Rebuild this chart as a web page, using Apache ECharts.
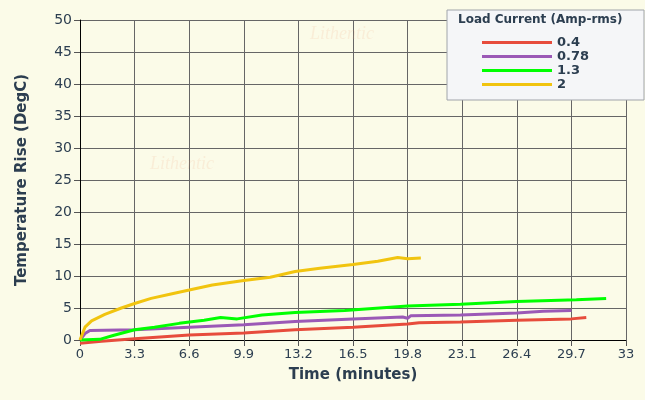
<!DOCTYPE html><html><head><meta charset="utf-8"><script src="https://cdn.jsdelivr.net/npm/echarts@6/dist/echarts.min.js"></script>
<style>body{margin:0;background:#fbfbe8}#c{width:645px;height:400px}</style></head><body><div id="c"></div><script>
const seriesNames=['0.4','0.78','1.3','2'];
const colors=['#e74c3c','#9b59b6','#00ff00','#f1c40f'];
const xTicks=[0,3.3,6.6,9.9,13.2,16.5,19.8,23.1,26.4,29.7,33];
const red=[[0,-0.5],[1.3,-0.2],[3.3,0.2],[6.6,0.8],[9.9,1.1],[13,1.6],[16.5,2],[19.8,2.5],[20.5,2.7],[23,2.8],[26.4,3.1],[29.7,3.3],[30.6,3.5]];
const purple=[[0,0],[0.3,1],[0.6,1.5],[3.3,1.6],[6.6,2.0],[9.9,2.4],[13,2.9],[16.5,3.3],[19.5,3.6],[19.8,3.4],[20,3.8],[23,3.9],[26.4,4.2],[28,4.5],[29.7,4.6]];
const green=[[0,0],[1.2,0.1],[2,0.7],[3.3,1.6],[4.5,2],[6,2.6],[7.5,3.1],[8.5,3.5],[9.5,3.3],[11,3.9],[13,4.3],[16,4.6],[19.8,5.3],[23,5.6],[26.4,6],[30,6.3],[31.8,6.5]];
const yellow=[[0,0],[0.3,2],[0.7,3],[1.5,4],[2.5,5],[3.3,5.7],[4.3,6.5],[5.5,7.2],[6.6,7.8],[8,8.6],[9.9,9.3],[11.5,9.8],[13,10.7],[14.5,11.2],[16.5,11.8],[18,12.3],[19.2,12.9],[19.8,12.7],[20.6,12.8]];
const data=[red,purple,green,yellow];
const c=echarts.init(document.getElementById('c'));
const txt={color:'#2c3e50',fontFamily:'DejaVu Sans',fontSize:13};
c.setOption({
backgroundColor:'#fbfbe8',animation:false,
grid:{left:80,right:19,top:20,bottom:60},
xAxis:{type:'value',min:0,max:33,interval:3.3,name:'Time (minutes)',nameLocation:'middle',nameGap:28,
 nameTextStyle:{...txt,fontSize:15,fontWeight:'bold'},
 axisLabel:{...txt,formatter:v=>String(Math.round(v*10)/10)},
 axisLine:{onZero:false,lineStyle:{color:'#000'}},axisTick:{show:true,length:6,lineStyle:{color:'#555'}},
 splitLine:{lineStyle:{color:'#666',width:1}}},
yAxis:{type:'value',min:0,max:50,interval:5,name:'Temperature Rise (DegC)',nameLocation:'middle',nameGap:50,
 nameTextStyle:{...txt,fontSize:15,fontWeight:'bold'},axisLabel:{...txt,fontSize:14},
 axisLine:{show:true,lineStyle:{color:'#000'}},axisTick:{show:true,length:6,lineStyle:{color:'#555'}},
 splitLine:{lineStyle:{color:'#666',width:1}}},
legend:{orient:'vertical',left:477,top:31,itemWidth:70,itemHeight:3,itemGap:1,icon:'rect',z:300,zlevel:1,
 textStyle:{...txt,fontWeight:'bold',fontSize:13},data:seriesNames},
graphic:[
 {type:'rect',shape:{x:447,y:10,width:197,height:90},style:{fill:'#f5f6f8',stroke:'#a0a4aa',lineWidth:1},z:100},
 {type:'text',left:458,top:14,style:{text:'Load Current (Amp-rms)',fill:'#2c3e50',font:'bold 12px DejaVu Sans'},z:101},
 {type:'text',left:310,top:25,style:{text:'Lithentic',fill:'rgba(240,160,120,0.15)',font:'italic 18px serif'},z:1},
 {type:'text',left:150,top:155,style:{text:'Lithentic',fill:'rgba(240,160,120,0.15)',font:'italic 18px serif'},z:1}
],
series:data.map((d,i)=>({name:seriesNames[i],type:'line',data:d,showSymbol:false,clip:false,
 lineStyle:{color:colors[i],width:3},itemStyle:{color:colors[i]}}))
});
</script></body></html>
